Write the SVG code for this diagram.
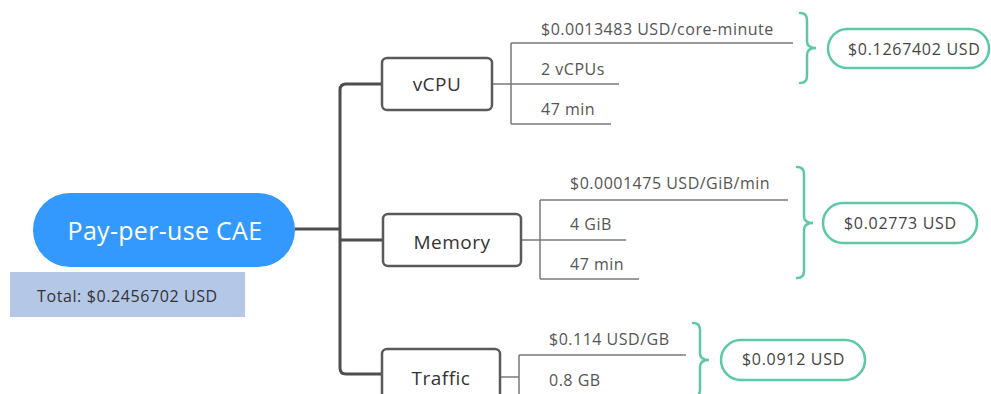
<svg xmlns="http://www.w3.org/2000/svg" width="991" height="394" viewBox="0 0 991 394">
<style>
.trunk{fill:none;stroke:#4d4d4d;stroke-width:3;stroke-linejoin:round}
.thin{fill:none;stroke:#7a7a7a;stroke-width:1.5}
.box{fill:#fff;stroke:#5a5a5a;stroke-width:2.5}
.brace{fill:none;stroke:#5cc8a4;stroke-width:2.5;stroke-linecap:round}
.pill{fill:#fff;stroke:#5cc8a4;stroke-width:2.5}
.lbl{font-family:"Open Sans","Noto Sans",sans-serif;font-size:19px;fill:#333;text-anchor:middle;letter-spacing:0.5px}
.det{font-family:"Open Sans","Noto Sans",sans-serif;font-size:16px;fill:#555;letter-spacing:0.5px}
.res{font-family:"Open Sans","Noto Sans",sans-serif;font-size:16px;fill:#444;letter-spacing:0.7px}
</style>
<rect width="991" height="394" fill="#fff"/>
<g id="connectors">
<path class="trunk" d="M295,229 H340 M382,84 H346 Q340,84 340,90 V368 Q340,374 346,374 H382 M340,240 H383"/>
<path class="thin" d="M492,84 H619 M511,43 V124 M511,43 H793 M511,124 H611"/>
<path class="thin" d="M521,240 H626 M540,200 V279 M540,200 H788 M540,279 H639"/>
<path class="thin" d="M500,377 H519 M519,355 V394 M519,355 H686"/>
<path class="brace" d="M800,13 Q807,13 807,20 V41 Q807,48 816,48 Q807,48 807,55 V76 Q807,83 800,83"/>
<path class="brace" d="M797,167 Q804,167 804,174 V216 Q804,223 813,223 Q804,223 804,230 V271 Q804,278 797,278"/>
<path class="brace" d="M693,323 Q700,323 700,330 V353 Q700,360 709,360 Q700,360 700,367 V390 Q700,397 693,397"/>
</g>
<g id="root">
<rect x="33" y="193" width="262" height="74" rx="37" fill="#3399ff"/>
<text x="165" y="240" font-family="Open Sans, Noto Sans, sans-serif" font-size="25" fill="#fff" text-anchor="middle" letter-spacing="0.3">Pay-per-use CAE</text>
</g>
<g id="total">
<rect x="10" y="272" width="235" height="45" fill="#b4c7e7"/>
<text x="37" y="302" font-family="Open Sans, Noto Sans, sans-serif" font-size="16" fill="#333" letter-spacing="0.6">Total: $0.2456702 USD</text>
</g>
<g id="vcpu">
<rect class="box" x="382" y="58" width="110" height="52" rx="5"/>
<text class="lbl" x="437" y="91">vCPU</text>
<text class="det" x="541" y="35">$0.0013483 USD/core-minute</text>
<text class="det" x="541" y="75">2 vCPUs</text>
<text class="det" x="541" y="115">47 min</text>
</g>
<g id="vcpu-cost">
<rect class="pill" x="828" y="29" width="161" height="39" rx="19.5"/>
<text class="res" x="848" y="55">$0.1267402 USD</text>
</g>
<g id="memory">
<rect class="box" x="383" y="214" width="138" height="52" rx="5"/>
<text class="lbl" x="452" y="249">Memory</text>
<text class="det" x="570" y="189">$0.0001475 USD/GiB/min</text>
<text class="det" x="570" y="230">4 GiB</text>
<text class="det" x="570" y="270">47 min</text>
</g>
<g id="memory-cost">
<rect class="pill" x="823" y="203" width="154" height="40" rx="20"/>
<text class="res" x="844" y="229">$0.02773 USD</text>
</g>
<g id="traffic">
<rect class="box" x="382" y="349" width="118" height="60" rx="5"/>
<text class="lbl" x="441" y="385">Traffic</text>
<text class="det" x="549" y="345">$0.114 USD/GB</text>
<text class="det" x="549" y="386">0.8 GB</text>
</g>
<g id="traffic-cost">
<rect class="pill" x="721" y="340" width="144" height="40" rx="20"/>
<text class="res" x="742" y="365">$0.0912 USD</text>
</g>
</svg>
